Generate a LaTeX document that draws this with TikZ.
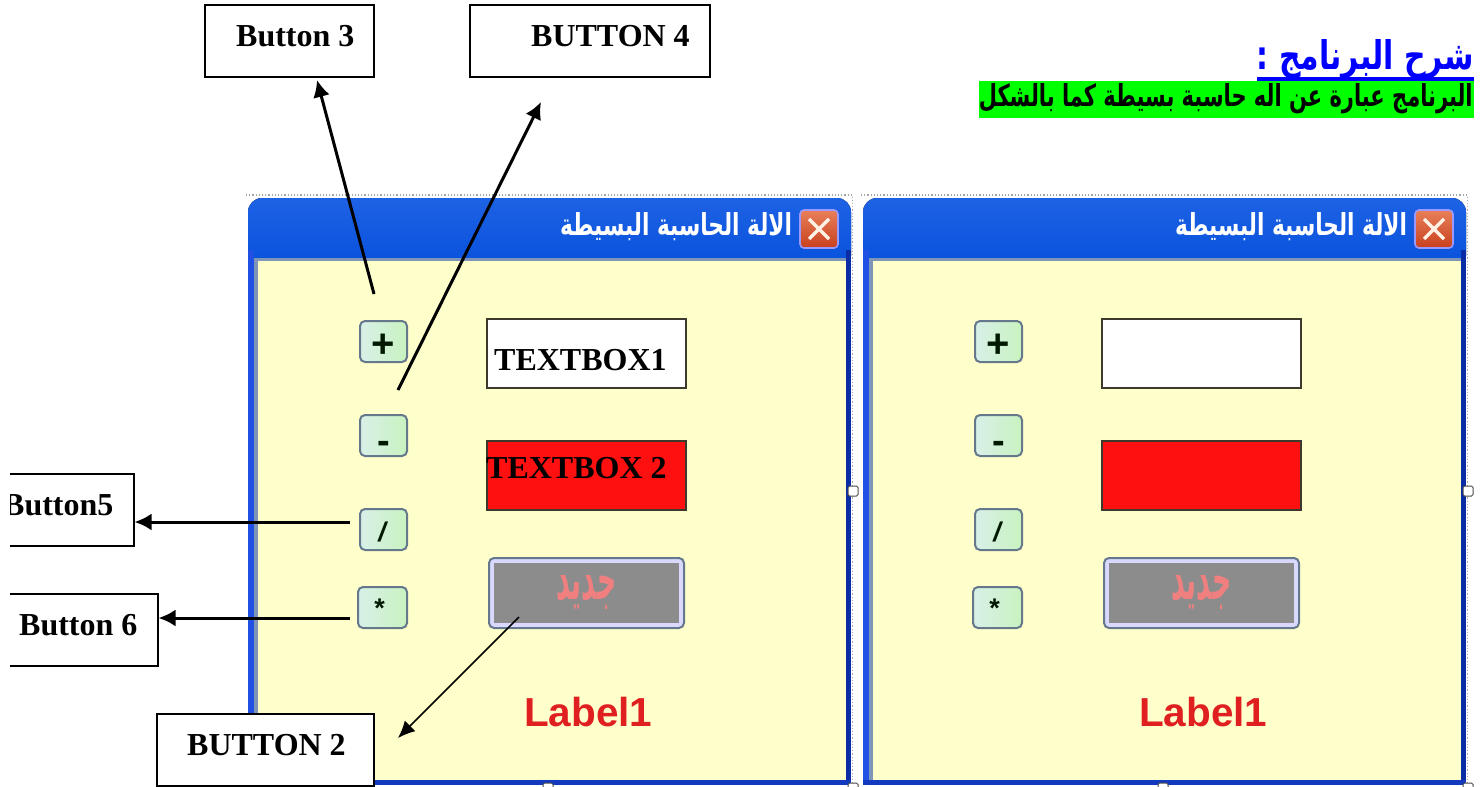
\documentclass[tikz,border=0pt]{standalone}
\usepackage{fontspec}
\usepackage{graphicx}
\usetikzlibrary{arrows.meta}
\setmainfont{Liberation Serif}
\newfontfamily\arsans{Liberation Sans}
\newfontfamily\arabicfont[Script=Arabic]{DejaVu Sans}
\TeXXeTstate=1
\definecolor{client}{HTML}{FFFFCC}
\definecolor{xptop}{HTML}{1E62E4}
\definecolor{xpbot}{HTML}{0650DC}
\definecolor{xpleft}{HTML}{2050E4}
\definecolor{xpright}{HTML}{0A2CA4}
\definecolor{xpinner}{HTML}{7F95B8}
\definecolor{btnedge}{HTML}{66788C}
\definecolor{btnleft}{HTML}{D8F0E8}
\definecolor{btnright}{HTML}{C8F2C0}
\definecolor{boxred}{HTML}{FF1010}
\definecolor{labelred}{HTML}{E02020}
\definecolor{newgray}{HTML}{8C8C8C}
\definecolor{newtext}{HTML}{F08080}
\definecolor{closetop}{HTML}{E8805A}
\definecolor{closebot}{HTML}{C8401E}
\tikzset{
  place/.style={anchor=north west,inner sep=0pt,outer sep=0pt},
  callout/.style={place,draw=black,line width=1.5pt,fill=white},
  labeltxt/.style={anchor=base west,inner sep=0pt,font=\bfseries\fontsize{32}{36}\selectfont},
  calcbtn/.style={place,draw=btnedge,line width=2pt,rounded corners=5pt,left color=btnleft,right color=btnright,minimum width=47pt,minimum height=41pt},
  sym/.style={inner sep=0pt,font=\arsans\bfseries\fontsize{34}{36}\selectfont,text=black!90!green},
  tbox/.style={place,draw=black!75!olive,line width=2pt,minimum width=199pt,minimum height=69pt},
  thickarrow/.style={draw=black,line width=3pt,-{Latex[length=17pt,width=17pt]}},
  thinarrow/.style={draw=black,line width=1.6pt,-{Latex[length=17pt,width=15pt]}},
  handle/.style={draw=black!70,fill=white,rounded corners=1.5pt,line width=1pt,minimum size=10pt,inner sep=0pt,outer sep=0pt},
}
\newcommand{\calcwindow}[2]{%
\begin{scope}[shift={(#2,0)}]
  \draw[gray!70,line width=1.2pt,dotted] (246,195) -- (852.5,195) -- (852.5,787);
  \fill[rounded corners=14pt,top color=xptop,bottom color=xpbot] (248,198) -- (851,198) -- (851,270) -- (248,270) -- cycle;
  \fill[xpleft] (248,250) rectangle (254,785);
  \fill[xpright] (846,250) rectangle (851,785);
  \fill[xpright!60!xpleft] (248,780) rectangle (851,785);
  \fill[client] (254,258) rectangle (846,780);
  \fill[xpinner] (254,258) rectangle (846,261);
  \fill[xpinner] (254,258) rectangle (258,780);
  \fill[client] (258,261) rectangle (846,780);
  \node[inner sep=0pt,text=white] (#1title) at (676,227) {\resizebox{232pt}{23pt}{\arabicfont\bfseries\beginR الالة الحاسبة البسيطة\endR}};
  \node[place,minimum width=38pt,minimum height=38pt,rounded corners=4pt,draw=white!60!blue,line width=1.6pt,top color=closetop,bottom color=closebot] (#1close) at (800,210) {};
  \draw[white!90!orange,line width=3.4pt] ([shift={(9,9)}]#1close.north west) -- ([shift={(-9,-9)}]#1close.south east);
  \draw[white!90!orange,line width=3.4pt] ([shift={(-9,9)}]#1close.north east) -- ([shift={(9,-9)}]#1close.south west);
  \node[calcbtn] (#1plus) at (360,321) {};
  \node[sym,yshift=-4.5pt,font=\arsans\bfseries\fontsize{40}{42}\selectfont] at (#1plus.center) {+};
  \node[calcbtn] (#1minus) at (360,415) {};
  \node[sym,yshift=-12pt,font=\arsans\bfseries\fontsize{38}{40}\selectfont] at (#1minus.center) {-};
  \node[calcbtn] (#1div) at (360,509) {};
  \node[sym,xshift=-1.5pt,yshift=-2pt,font=\arsans\bfseries\itshape\fontsize{27}{30}\selectfont] at (#1div.center) {/};
  \node[calcbtn,minimum width=49pt] (#1mul) at (358,587) {};
  \node[sym,xshift=-3pt,yshift=-1pt,font=\arsans\bfseries\fontsize{27}{30}\selectfont] at (#1mul.center) {*};
  \node[tbox,fill=white] (#1tb) at (487,319) {};
  \node[tbox,fill=boxred] (#1tc) at (487,441) {};
  \node[place,draw=btnedge,fill=white!85!blue,line width=2pt,rounded corners=5pt,minimum width=195pt,minimum height=70pt] (#1new) at (489,558) {};
  \fill[newgray] ([shift={(5,5)}]#1new.north west) rectangle ([shift={(-5,-5)}]#1new.south east);
  \node[inner sep=0pt,text=newtext] at (#1new.center) {\resizebox{60pt}{24pt}{\arabicfont\bfseries\beginR جديد\endR}};
  \node[anchor=base west,inner sep=0pt,text=labelred,font=\arsans\bfseries\fontsize{40.5}{44}\selectfont] (#1lab) at (524,726) {Label1};
  \node[handle] (#1ha) at (853,491) {};
  \node[handle] (#1hb) at (548,788) {};
  \node[handle] (#1hc) at (853,788) {};
\end{scope}}
\begin{document}
\begin{tikzpicture}[x=1pt,y=-1pt]
\useasboundingbox (0,0) rectangle (1481,787);
\fill[white] (0,0) rectangle (1481,787);
\calcwindow{l}{0}
\calcwindow{r}{615}
% header
\fill[green] (979,81) rectangle (1474,118);
\node[anchor=east,inner sep=0pt,text=blue] (title) at (1474,59) {\resizebox{217pt}{30pt}{\arabicfont\bfseries\beginR شرح البرنامج :\endR}};
\fill[blue] (1257,77) rectangle (1474,80.5);
\node[anchor=east,inner sep=0pt] (sub) at (1473,99) {\resizebox{494pt}{23pt}{\arabicfont\bfseries\beginR البرنامج عبارة عن اله حاسبة بسيطة كما بالشكل\endR}};
% callout boxes
\node[callout,minimum width=169pt,minimum height=72pt] (b3) at (205,5) {};
\node[callout,minimum width=240pt,minimum height=72pt] (b4) at (470,5) {};
\node[callout,minimum width=144pt,minimum height=72pt] (b5) at (-10,474) {};
\node[callout,minimum width=168pt,minimum height=72pt] (b6) at (-10,594) {};
\node[callout,minimum width=217pt,minimum height=72pt] (b2) at (157,714) {};
\node[labeltxt] (t3) at (236,46) {Button 3};
\node[labeltxt] (t4) at (531,46) {BUTTON 4};
\node[labeltxt] (t5) at (3,515) {Button5};
\node[labeltxt] (t6) at (19,635) {Button 6};
\node[labeltxt] (t2) at (187,755) {BUTTON 2};
\node[labeltxt] (tb1) at (494,370) {TEXTBOX1};
\node[labeltxt] (tb2) at (486,478) {TEXTBOX 2};
\fill[white] (0,0) rectangle (10,787);
% connectors
\coordinate (s3) at (374,294); \coordinate (e3) at (317,80);
\coordinate (s4) at (398,390); \coordinate (e4) at (541,102);
\coordinate (s5) at (350,522); \coordinate (e5) at (134.5,522);
\coordinate (s6) at (350,618); \coordinate (e6) at (158.5,618);
\coordinate (s2) at (519,617); \coordinate (e2) at (398,738);
\draw[thickarrow] (s3) -- (e3);
\draw[thickarrow] (s4) -- (e4);
\draw[thickarrow] (s5) -- (e5);
\draw[thickarrow] (s6) -- (e6);
\draw[thinarrow] (s2) -- (e2);
\end{tikzpicture}
\end{document}
